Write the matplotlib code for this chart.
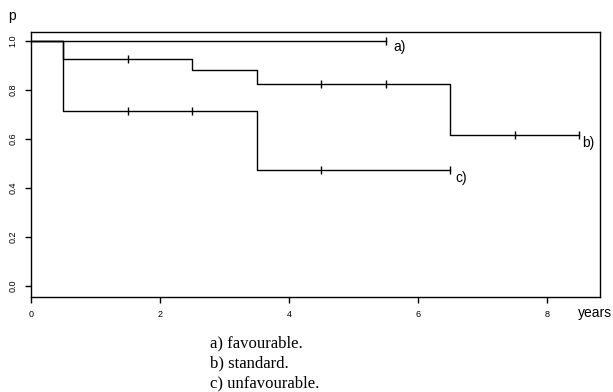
import matplotlib
matplotlib.use('Agg')
import matplotlib.pyplot as plt

plt.rcParams['font.family'] = ['Liberation Sans', 'DejaVu Sans']

# Kaplan-Meier style step curves (years, survival probability)
a_times = [0, 5.5]
a_surv = [1.0, 1.0]
a_cens = [5.5]

b_times = [0, 0.5, 2.5, 3.5, 6.5, 8.5]
b_surv = [1.0, 0.925, 0.883, 0.826, 0.618, 0.618]
b_cens = [1.5, 4.5, 5.5, 7.5, 8.5]

c_times = [0, 0.5, 3.5, 6.5]
c_surv = [1.0, 0.714, 0.475, 0.475]
c_cens = [1.5, 2.5, 4.5, 6.5]

x_ticks = [0, 2, 4, 6, 8]
y_ticks = [0.0, 0.2, 0.4, 0.6, 0.8, 1.0]
legend_lines = ['a) favourable.', 'b) standard.', 'c) unfavourable.']


def level_at(times, surv, t):
    val = surv[0]
    for ti, si in zip(times, surv):
        if ti <= t:
            val = si
    return val


fig = plt.figure(figsize=(6.13, 3.92), dpi=100)
ax = fig.add_axes([31 / 613, 1 - 297 / 392, 569 / 613, 265 / 392])

for times, surv, cens in [(a_times, a_surv, a_cens),
                          (b_times, b_surv, b_cens),
                          (c_times, c_surv, c_cens)]:
    ax.step(times, surv, where='post', color='black', lw=1.0)
    ax.plot(cens, [level_at(times, surv, t) for t in cens], ls='none',
            marker='|', ms=6, mew=1.0, color='black')

# curve labels
ax.text(5.62, 0.975, 'a)', fontsize=10, va='center', ha='left')
ax.text(8.55, 0.585, 'b)', fontsize=10, va='center', ha='left')
ax.text(6.58, 0.44, 'c)', fontsize=10, va='center', ha='left')

ax.set_xlim(0, 8.82)
ax.set_ylim(-0.045, 1.037)
ax.set_xticks(x_ticks)
ax.set_xticklabels([str(t) for t in x_ticks], fontsize=6.5)
ax.set_yticks(y_ticks)
ax.set_yticklabels(['%.1f' % v for v in y_ticks], fontsize=6.5, rotation=90, va='center')
ax.tick_params(axis='x', length=4.5, width=1.0, pad=5)
ax.tick_params(axis='y', length=4.5, width=1.0, pad=5)
for s in ax.spines.values():
    s.set_linewidth(1.0)

fig.text(12 / 613, 1 - 20 / 392, 'p', fontsize=10, ha='center', va='baseline')
fig.text(578 / 613, 1 - 313 / 392, 'years', fontsize=10, ha='left', va='center')

for i, line in enumerate(legend_lines):
    fig.text(210 / 613, 1 - (343 + 20 * i) / 392, line, fontsize=12,
             family='Liberation Serif', ha='left', va='center')

fig.savefig('out.png', dpi=100)
